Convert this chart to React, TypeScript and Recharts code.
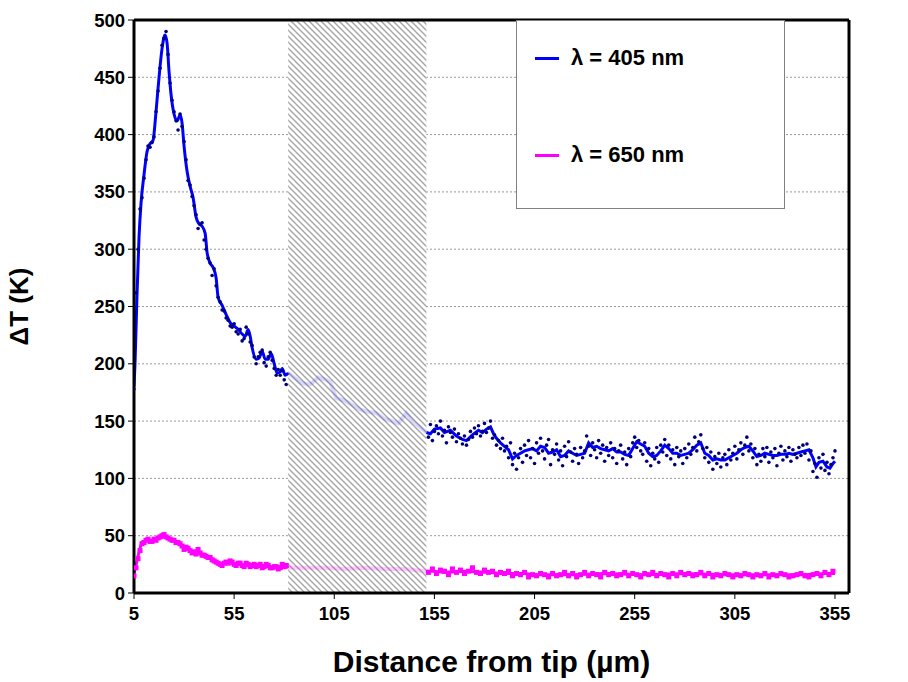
import {
  ComposedChart,
  Line,
  Scatter,
  XAxis,
  YAxis,
  CartesianGrid,
  ReferenceArea,
  ReferenceLine,
  Label,
} from 'recharts'

const FONT = '"Liberation Sans", Arial, sans-serif'

const xTicks = [5, 55, 105, 155, 205, 255, 305, 355]
const leftTicks = [0, 50, 100, 150, 200, 250, 300, 350, 400, 450, 500]
const rightTicks = [0, 0.02, 0.04, 0.06, 0.08, 0.1, 0.12]

// shaded (hatched) interval, µm
const hatchStart = 82
const hatchEnd = 151

// λ = 405 nm, smoothed curve
const blueLineX = [
  5, 5.5, 6.5, 7.5, 8.5, 10, 11.5, 13, 14.5, 16, 17.5, 19, 20.5, 21.5, 22.5, 23.5, 25, 26.5, 28, 29,
  30, 31.5, 33, 34.5, 36, 37.5, 39, 40.5, 41.5, 43, 44.5, 46, 47, 49, 51, 53, 55, 57, 59, 60.5,
  62, 63, 64, 66, 67.5, 69, 70.5, 72, 73.5, 75, 76.5, 78, 79, 80.5, 82, 85, 89, 93, 97, 101,
  103, 106, 110, 114, 118, 122, 126, 130, 134, 137, 141, 144, 147, 151, 153, 155, 158, 160, 163, 166,
  169, 171, 174, 177, 179, 181, 183, 184.5, 186, 188, 190, 192, 194, 196, 198, 200, 202, 204, 206, 208,
  210, 212, 214, 216, 218, 220, 222, 224, 226, 228, 230, 232, 234, 236, 238, 240, 242, 244, 246, 248,
  250, 252, 254, 256, 258, 260, 262, 264, 266, 268, 270, 272, 274, 276, 278, 280, 282, 284, 286, 288,
  290, 292, 294, 296, 298, 300, 302, 304, 306, 308, 310, 312, 314, 316, 318, 320, 322, 324, 326, 328,
  330, 332, 334, 336, 338, 340, 342, 344, 345.5, 347, 349, 351, 352.5, 354, 355,
]
const blueLineY = [
  180, 200, 260, 310, 340, 365, 385, 392, 395, 420, 450, 475, 487, 480, 455, 435, 418, 412, 417, 410,
  390, 368, 355, 345, 328, 322, 320, 314, 297, 288, 284, 275, 258, 251, 243, 236, 233, 230, 226, 224,
  230, 224, 214, 204, 205, 211, 204, 204, 209, 200, 192, 193, 196, 190, 192, 188, 183, 182, 188, 186,
  184, 170, 168, 164, 160, 158, 157, 152, 150, 148, 157, 150, 146, 140, 139, 143, 144, 140, 142, 137,
  134, 133, 138, 142, 140, 143, 145, 139, 135, 131, 128, 125, 117, 120, 122, 124, 125, 126, 124, 128,
  127, 122, 123, 125, 119, 120, 124, 122, 120, 121, 122, 131, 127, 128, 126, 125, 124, 126, 123, 123,
  121, 120, 126, 132, 130, 128, 122, 119, 120, 124, 129, 126, 122, 122, 120, 121, 122, 125, 129, 131,
  122, 120, 116, 117, 116, 116, 118, 120, 122, 125, 127, 128, 124, 119, 120, 122, 121, 120, 120, 121,
  121, 122, 121, 122, 123, 124, 125, 118, 110, 114, 115, 110, 109, 113, 115,
]

// λ = 405 nm, raw points (1 µm spacing)
const blueDotsEarlyStart = 5
const blueDotsEarly = [
  178, 262, 300, 335, 345, 362, 378, 390, 389, 393, 398, 420, 438, 458, 478, 484, 490, 470, 445, 430,
  420, 412, 404, 418, 407, 394, 378, 360, 356, 346, 338, 330, 318, 322, 323, 308, 300, 292, 288, 277,
  283, 268, 258, 254, 247, 246, 240, 238, 233, 232, 235, 228, 226, 230, 220, 222, 232, 226, 219, 216,
  206, 200, 206, 210, 212, 201, 198, 206, 210, 203, 196, 190, 195, 190, 194, 186, 182,
]
const blueDotsLateStart = 152
const blueDotsLate = [
  136, 147, 133, 141, 146, 139, 150, 137, 142, 131, 145, 140, 136, 143, 132, 139, 135, 130, 137, 129,
  134, 141, 136, 144, 139, 146, 137, 141, 148, 140, 144, 150, 135, 138, 129, 133, 126, 135, 124, 128,
  118, 131, 112, 122, 108, 118, 126, 114, 129, 120, 133, 118, 126, 113, 131, 122, 135, 124, 117, 129,
  134, 112, 125, 121, 130, 116, 124, 111, 128, 119, 132, 123, 115, 126, 121, 113, 127, 118, 124, 137,
  128, 120, 131, 125, 118, 133, 122, 129, 115, 127, 120, 131, 118, 126, 113, 124, 129, 117, 123, 112,
  126, 119, 131, 136, 127, 133, 124, 121, 131, 115, 126, 111, 122, 117, 127, 114, 129, 123, 134, 120,
  129, 117, 125, 112, 127, 119, 124, 113, 126, 118, 130, 121, 127, 136, 124, 132, 138, 126, 118, 127,
  114, 123, 108, 119, 113, 122, 110, 118, 121, 112, 125, 116, 122, 128, 117, 125, 131, 121, 129, 136,
  124, 130, 118, 126, 112, 121, 115, 126, 119, 127, 114, 123, 118, 126, 111, 122, 128, 116, 124, 119,
  127, 115, 125, 121, 118, 127, 120, 129, 122, 130, 116, 124, 106, 113, 101, 118, 109, 121, 107, 114,
  104, 112, 118, 124,
]

// λ = 650 nm, smoothed curve
const pinkLineX = [
  5, 6, 7, 8, 9, 10, 12, 14, 16, 18, 20, 22, 24, 26, 28, 30, 32, 34, 36, 38,
  40, 42, 44, 46, 48, 50, 52, 54, 56, 58, 60, 62, 64, 66, 68, 70, 72, 74, 76, 78,
  80, 82, 90, 100, 110, 120, 130, 140, 151, 155, 160, 170, 180, 190, 200, 205, 215, 225, 240, 260,
  280, 300, 320, 340, 350, 355,
]
const pinkLineY = [
  17, 24, 32, 39, 44, 45, 46, 46, 47, 48, 49, 48, 47, 45, 42, 40, 38, 36, 35, 34,
  33, 32, 30, 27, 25, 26, 27, 26, 25, 25, 24, 25, 24, 24, 23, 24, 23, 23, 22, 23,
  24, 22, 22, 22, 21, 22, 21, 21, 19, 19, 18, 19, 18, 17, 17, 16, 16, 16, 17, 16,
  17, 16, 16, 16, 17, 17,
]

// λ = 650 nm, raw points
const pinkDotsEarlyStart = 5
const pinkDotsEarly = [
  15, 22, 30, 37, 43, 44, 46, 47, 45, 45, 47, 46, 48, 49, 50, 51, 49, 48, 47, 46,
  46, 44, 44, 43, 41, 38, 40, 39, 37, 35, 36, 34, 38, 35, 33, 33, 32, 31, 31, 29,
  28, 27, 26, 25, 24, 26, 27, 26, 28, 27, 25, 24, 26, 26, 24, 23, 26, 25, 23, 24,
  25, 23, 24, 25, 22, 23, 25, 24, 22, 22, 23, 23, 21, 22, 25, 23, 24,
]
const pinkDotsLateStart = 152
const pinkDotsLate = [
  18, 21, 17, 20, 19, 16, 21, 18, 20, 17, 19, 22, 18, 17, 20, 18, 19, 16, 18, 17,
  19, 15, 17, 16, 18, 14, 16, 15, 17, 16, 14, 17, 15, 16, 18, 15, 17, 14, 16, 18,
  15, 17, 16, 14, 18, 16, 17, 15, 16, 18, 15, 17, 16, 14, 17, 16, 18, 15, 17, 16,
  14, 17, 15, 18, 16, 17, 15, 16, 18, 15, 17, 14, 16, 15, 17, 16, 14, 16, 15, 17,
  16, 14, 16, 15, 17, 14, 16, 15, 17, 16, 14, 15, 16, 17, 15, 14, 16, 17, 15, 18,
  16, 19,
]

const toPoints = (xs: number[], ys: number[]) => xs.map((x, i) => ({ x, y: ys[i] }))
const fromStart = (start: number, step: number, ys: number[]) =>
  ys.map((y, i) => ({ x: start + i * step, y }))

const blueLine = toPoints(blueLineX, blueLineY)
const pinkLine = toPoints(pinkLineX, pinkLineY)
const outside = (p: { x: number }) => p.x <= hatchStart || p.x >= hatchEnd
const inside = (p: { x: number }) => p.x >= hatchStart && p.x <= hatchEnd

const blueBefore = blueLine.filter((p) => p.x <= hatchStart)
const blueAfter = blueLine.filter((p) => p.x >= hatchEnd)
const blueHidden = blueLine.filter(inside)
const pinkBefore = pinkLine.filter((p) => p.x <= hatchStart)
const pinkAfter = pinkLine.filter((p) => p.x >= hatchEnd)
const pinkHidden = pinkLine.filter(inside)

const blueDots = [
  ...fromStart(blueDotsEarlyStart, 1, blueDotsEarly),
  ...fromStart(blueDotsLateStart, 1, blueDotsLate),
].filter(outside)
const pinkDots = [
  ...fromStart(pinkDotsEarlyStart, 1, pinkDotsEarly),
  ...fromStart(pinkDotsLateStart, 2, pinkDotsLate),
].filter(outside)

const tickStyle = { fontFamily: FONT, fontWeight: 700, fontSize: 18.5, fill: '#000' }

function LegendBox() {
  const row = (color: string, text: string, top: number) => (
    <div style={{ position: 'absolute', left: 18, top, display: 'flex', alignItems: 'center' }}>
      <div style={{ width: 24, height: 3, background: color, marginRight: 12 }} />
      <span style={{ fontFamily: FONT, fontWeight: 700, fontSize: 22, color: '#000' }}>{text}</span>
    </div>
  )
  return (
    <div
      style={{
        position: 'absolute',
        left: 516,
        top: 20,
        width: 267,
        height: 187,
        border: '1px solid #808080',
        background: '#fff',
      }}
    >
      {row('#0000ff', 'λ = 405 nm', 24)}
      {row('#ff00ff', 'λ = 650 nm', 121)}
    </div>
  )
}

export default function App() {
  return (
    <div style={{ position: 'absolute', left: 0, top: 0, width: 908, height: 682, background: '#fff' }}>
      <ComposedChart width={908} height={682} margin={{ top: 20, right: 0, bottom: 0, left: 0 }}>
        <defs>
          <pattern id="hatch" patternUnits="userSpaceOnUse" width={6} height={6}>
            <rect width={6} height={6} fill="#fff" />
            <path d="M-1,-1 L7,7 M-1,5 L1,7 M5,-1 L7,1" stroke="#a6a6a6" strokeWidth={1.4} />
          </pattern>
        </defs>
        <CartesianGrid
          yAxisId="left"
          vertical={false}
          stroke="#9a9a9a"
          strokeDasharray="2 2"
        />
        <XAxis
          dataKey="x"
          type="number"
          domain={[5, 362]}
          ticks={xTicks}
          allowDataOverflow
          height={89}
          tick={tickStyle}
          tickSize={6}
          tickMargin={8}
          axisLine={{ stroke: '#000', strokeWidth: 3 }}
          tickLine={{ stroke: '#000' }}
        >
          <Label
            value="Distance from tip (µm)"
            position="insideBottom"
            offset={10}
            style={{ fontFamily: FONT, fontWeight: 700, fontSize: 30, fill: '#000' }}
          />
        </XAxis>
        <YAxis
          yAxisId="left"
          type="number"
          domain={[0, 500]}
          ticks={leftTicks}
          width={134}
          tick={tickStyle}
          tickSize={6}
          tickMargin={3}
          axisLine={{ stroke: '#000', strokeWidth: 3 }}
          tickLine={{ stroke: '#000' }}
        >
          <Label
            value="ΔT (K)"
            angle={-90}
            position="insideLeft"
            offset={19}
            style={{ textAnchor: 'middle', fontFamily: FONT, fontWeight: 700, fontSize: 26, fill: '#000' }}
          />
        </YAxis>
        <YAxis
          yAxisId="right"
          orientation="right"
          type="number"
          domain={[0, 0.12]}
          ticks={rightTicks}
          width={59}
          tick={tickStyle}
          tickSize={6}
          tickMargin={4}
          axisLine={{ stroke: '#000', strokeWidth: 3 }}
          tickLine={{ stroke: '#000' }}
        />
        <ReferenceArea
          yAxisId="left"
          x1={hatchStart}
          x2={hatchEnd}
          y1={0}
          y2={500}
          fill="url(#hatch)"
          fillOpacity={1}
          stroke="none"
        />
        <ReferenceLine yAxisId="left" y={500} stroke="#000" strokeWidth={3} />

        <Line data={blueHidden} dataKey="y" yAxisId="left" type="linear" stroke="#0000ff"
          strokeOpacity={0.15} strokeWidth={4} dot={false} isAnimationActive={false} />
        <Line data={pinkHidden} dataKey="y" yAxisId="left" type="linear" stroke="#ff00ff"
          strokeOpacity={0.2} strokeWidth={4} dot={false} isAnimationActive={false} />

        <Line data={blueBefore} dataKey="y" yAxisId="left" type="monotone" stroke="#0000ff"
          strokeWidth={3} dot={false} isAnimationActive={false} />
        <Line data={blueAfter} dataKey="y" yAxisId="left" type="linear" stroke="#0000ff"
          strokeWidth={3} dot={false} isAnimationActive={false} />
        <Scatter data={blueDots} dataKey="y" yAxisId="left" fill="#00007a" isAnimationActive={false}
          shape={(p: any) => <circle cx={p.cx} cy={p.cy} r={1.8} fill="#00007a" />} />

        <Line data={pinkBefore} dataKey="y" yAxisId="left" type="monotone" stroke="#ff00ff"
          strokeWidth={3} dot={false} isAnimationActive={false} />
        <Line data={pinkAfter} dataKey="y" yAxisId="left" type="linear" stroke="#ff00ff"
          strokeWidth={3} dot={false} isAnimationActive={false} />
        <Scatter data={pinkDots} dataKey="y" yAxisId="left" fill="#ff00ff" isAnimationActive={false}
          shape={(p: any) => <rect x={p.cx - 2.5} y={p.cy - 2.5} width={5} height={5} fill="#ff00ff" />} />
      </ComposedChart>
      <LegendBox />
    </div>
  )
}
